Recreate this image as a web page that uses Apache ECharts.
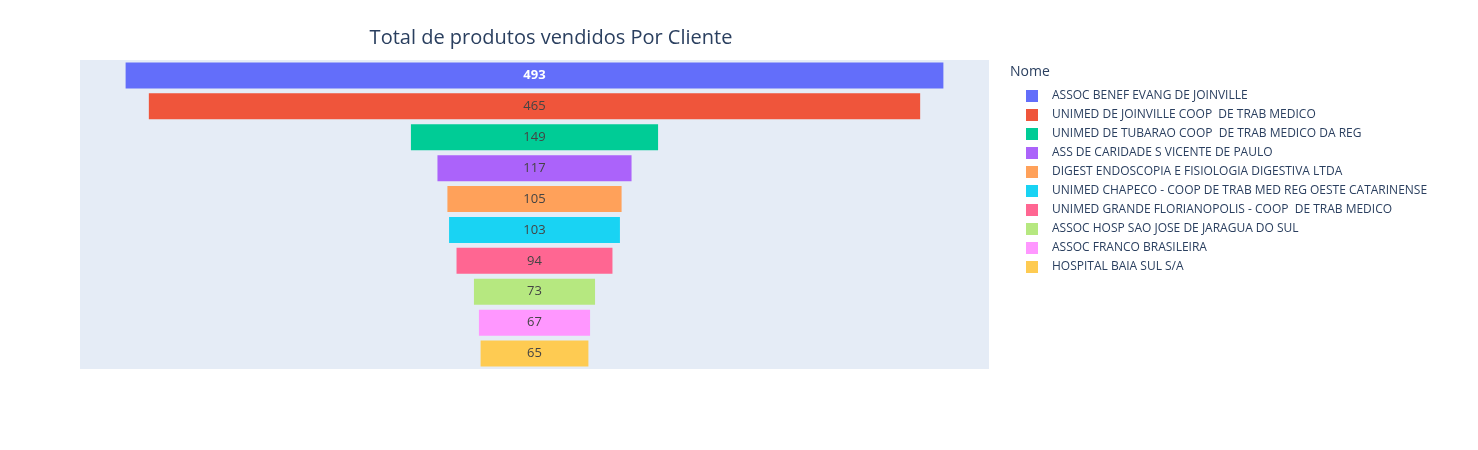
<!DOCTYPE html>
<html><head><meta charset="utf-8">
<script src="https://cdn.jsdelivr.net/npm/echarts@6/dist/echarts.min.js"></script>
<style>html,body{margin:0;padding:0;background:#fff}#c{width:1478px;height:450px}</style>
</head><body><div id="c"></div>
<script>
const categories = ["ASSOC BENEF EVANG DE JOINVILLE","UNIMED DE JOINVILLE COOP  DE TRAB MEDICO","UNIMED DE TUBARAO COOP  DE TRAB MEDICO DA REG","ASS DE CARIDADE S VICENTE DE PAULO","DIGEST ENDOSCOPIA E FISIOLOGIA DIGESTIVA LTDA","UNIMED CHAPECO - COOP DE TRAB MED REG OESTE CATARINENSE","UNIMED GRANDE FLORIANOPOLIS - COOP  DE TRAB MEDICO","ASSOC HOSP SAO JOSE DE JARAGUA DO SUL","ASSOC FRANCO BRASILEIRA","HOSPITAL BAIA SUL S/A"];
const values = [493,465,149,117,105,103,94,73,67,65];
const colors = ["#636efa","#EF553B","#00cc96","#ab63fa","#FFA15A","#19d3f3","#FF6692","#B6E880","#FF97FF","#FECB52"];
const half = 274;
const series = [{
  type:'bar', stack:'f', silent:true, itemStyle:{color:'transparent'},
  data: values.map(v => half - v/2), barCategoryGap:'16%'
}];
categories.forEach((n,i)=>{
  series.push({
    name:n, type:'bar', stack:'f', itemStyle:{color:colors[i]},
    data: values.map((v,j)=> j===i ? v : '-'),
    label:{show:true, position:'inside', fontSize:13, fontFamily:'Open Sans',
      color: i===0 ? '#fff' : '#444', fontWeight: i===0 ? 'bold' : 'normal'}
  });
});
const chart = echarts.init(document.getElementById('c'));
chart.setOption({
  animation:false,
  title:{text:'Total de produtos vendidos Por Cliente', left:546, top:23, textAlign:'center',
    textStyle:{fontSize:20, fontWeight:'normal', color:'#2a3f5f', fontFamily:'Open Sans'}},
  grid:{left:80, top:60, width:909, height:309, backgroundColor:'#E5ECF6', show:true, borderWidth:0},
  xAxis:{type:'value', min:0, max:2*half, show:false},
  yAxis:{type:'category', data:categories, inverse:true, show:false},
  legend:{orient:'vertical', left:1021, top:85, itemWidth:12, itemHeight:12, itemGap:7, icon:'rect',
    data:categories, textStyle:{fontSize:12, color:'#2a3f5f', fontFamily:'Open Sans', padding:[0,0,0,9]}},
  graphic:[{type:'text', left:1010, top:65, style:{text:'Nome', fontSize:14, fill:'#2a3f5f', fontFamily:'Open Sans'}}],
  series
});
</script></body></html>
